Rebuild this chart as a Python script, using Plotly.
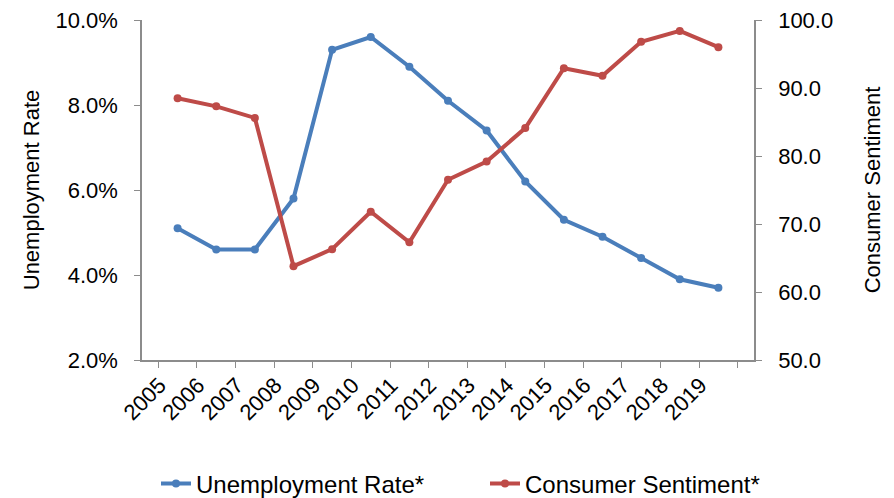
import plotly.graph_objects as go

years = ["2005","2006","2007","2008","2009","2010","2011","2012","2013","2014","2015","2016","2017","2018","2019"]
unemployment = [5.1, 4.6, 4.6, 5.8, 9.3, 9.6, 8.9, 8.1, 7.4, 6.2, 5.3, 4.9, 4.4, 3.9, 3.7]
sentiment = [88.5, 87.3, 85.6, 63.8, 66.3, 71.8, 67.3, 76.5, 79.2, 84.1, 92.9, 91.8, 96.8, 98.4, 96.0]

blue = "#4A7EBB"
red = "#BE4B48"
font = "Liberation Sans, Arial, sans-serif"
fs = 22

fig = go.Figure()
fig.add_trace(go.Scatter(x=years, y=[u/100 for u in unemployment], name="Unemployment Rate*",
                         mode="lines+markers", line=dict(color=blue, width=4),
                         marker=dict(size=8, color=blue), yaxis="y", legend="legend"))
fig.add_trace(go.Scatter(x=years, y=sentiment, name="Consumer Sentiment*",
                         mode="lines+markers", line=dict(color=red, width=4),
                         marker=dict(size=8, color=red), yaxis="y2", legend="legend2"))

axcol = "#8C8C8C"
leg_common = dict(orientation="h", xref="container", xanchor="left",
                  yref="container", y=14/498, yanchor="middle",
                  font=dict(size=24), bgcolor="rgba(0,0,0,0)")
fig.update_layout(
    width=894, height=498,
    margin=dict(l=142, r=140, t=20, b=138, autoexpand=False),
    paper_bgcolor="white", plot_bgcolor="white",
    font=dict(family=font, size=fs, color="#000"),
    xaxis=dict(type="category", tickangle=-45, showgrid=False, showline=True,
               linecolor=axcol, linewidth=1.5, ticks="outside", ticklen=6,
               tickcolor=axcol, tickson="boundaries", tickfont=dict(size=fs),
               ticklabelshift=-18, ticklabelstandoff=2,
               automargin=False),
    yaxis=dict(range=[0.02, 0.10], dtick=0.02, tickformat=".1%", showgrid=False,
               showline=True, linecolor=axcol, linewidth=1.5, ticks="outside",
               ticklen=6, tickcolor=axcol, zeroline=False, tickfont=dict(size=fs),
               ticklabelstandoff=12, automargin=False,
               title=dict(text="Unemployment Rate", standoff=10, font=dict(size=fs))),
    yaxis2=dict(range=[50, 100], dtick=10, tickformat=".1f", overlaying="y", side="right",
                showgrid=False, showline=True, linecolor=axcol, linewidth=1.5,
                ticks="outside", ticklen=6, tickcolor=axcol, zeroline=False,
                tickfont=dict(size=fs), ticklabelstandoff=12, automargin=False,
                title=dict(text="Consumer Sentiment", standoff=32, font=dict(size=fs))),
    legend=dict(x=156/894, **leg_common),
    legend2=dict(x=485/894, **leg_common),
    showlegend=True,
)
fig.write_html("out.html")
